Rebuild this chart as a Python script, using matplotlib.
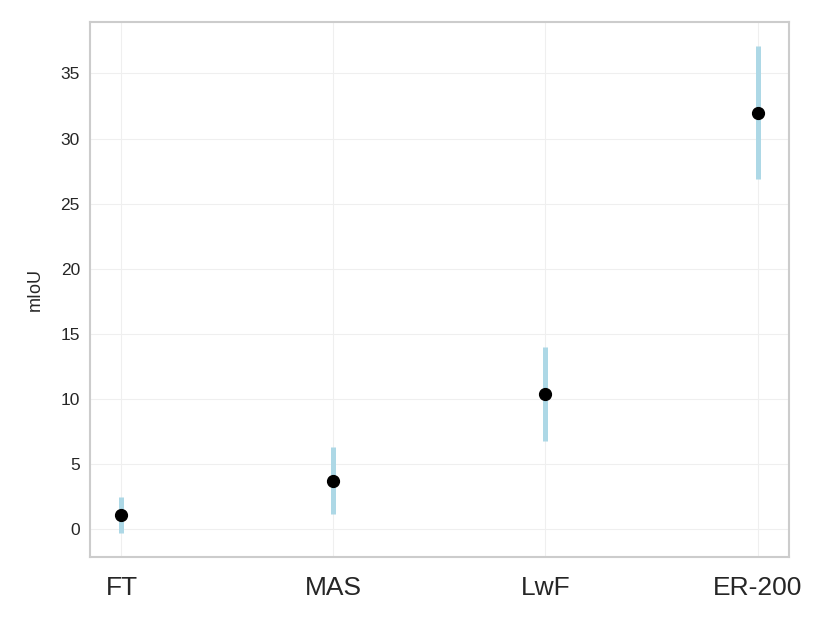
import matplotlib
matplotlib.use("Agg")
import matplotlib.pyplot as plt
import seaborn as sns

methods = ["FT", "MAS", "LwF", "ER-200"]
miou = [1.1, 3.75, 10.4, 32.0]
miou_err = [1.35, 2.55, 3.6, 5.1]

sns.set_style("whitegrid")
plt.rcParams["font.family"] = ["Arial", "Liberation Sans", "DejaVu Sans"]

fig, ax = plt.subplots(figsize=(8.3, 6.23), dpi=100)
ax.errorbar(methods, miou, yerr=miou_err, fmt="o", color="black",
            ecolor="lightblue", elinewidth=3.6, markersize=8.5, capsize=0)

ax.set_ylabel("mIoU", fontsize=13, labelpad=12)
ax.tick_params(axis="y", labelsize=12.5)
ax.tick_params(axis="x", labelsize=19, pad=10)
ax.grid(color="#efefef")
for s in ax.spines.values():
    s.set_color("#cccccc")
    s.set_linewidth(1.5)

fig.subplots_adjust(left=0.108, right=0.951, top=0.965, bottom=0.106)
fig.savefig("out.png", dpi=100)
